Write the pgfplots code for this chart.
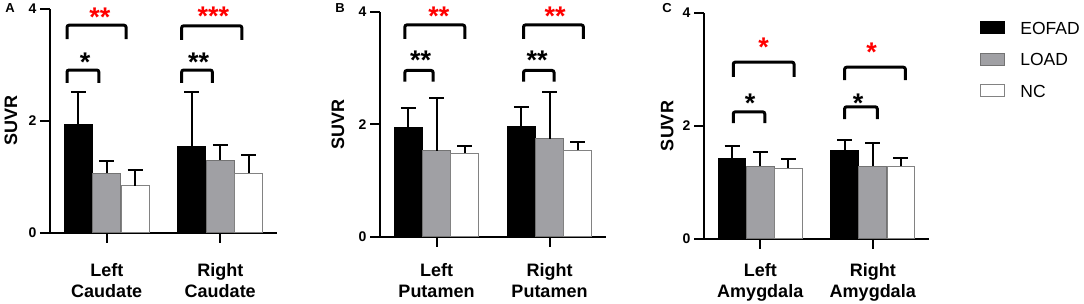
\documentclass[border=0pt]{standalone}
\usepackage{fontspec}
\setmainfont{Liberation Sans}
\usepackage{pgfplots}
\usepackage{pgfplotstable}
\pgfplotsset{compat=1.18}
\definecolor{loadgray}{RGB}{160,160,164}
\definecolor{edgegray}{RGB}{115,115,115}
\definecolor{ncedge}{RGB}{130,130,130}

\pgfplotstableread{
x e ee l le n ne
0 1.93 0.59 1.07 0.21 0.84 0.29
1 1.55 0.97 1.30 0.27 1.07 0.32
}\dataA
\pgfplotstableread{
x e ee l le n ne
0 1.94 0.35 1.53 0.94 1.49 0.13
1 1.96 0.35 1.75 0.82 1.54 0.14
}\dataB
\pgfplotstableread{
x e ee l le n ne
0 1.42 0.23 1.29 0.25 1.25 0.16
1 1.56 0.19 1.29 0.41 1.29 0.14
}\dataC

\pgfplotsset{
 panel/.style={
  scale only axis, xmin=-0.5, xmax=1.5, ymin=0, ymax=4,
  axis x line*=bottom, axis y line*=left,
  axis line style={-, line width=2.3pt, black},
  xtick={0,1}, ytick={0,2,4}, yticklabels={0,2,4},
  minor tick num=0,
  tick align=outside, major tick length=10pt,
  tick style={black, line width=2pt},
  ybar, bar width=0.245,
  clip=false,
  yticklabel style={font=\fontsize{14}{14}\selectfont\bfseries},
  xticklabel style={font=\fontsize{18}{20.5}\selectfont\bfseries, align=center},
  ylabel={SUVR},
  ylabel style={font=\fontsize{18}{18}\selectfont\bfseries, anchor=center},
 },
 errs/.style={error bars/y dir=plus, error bars/y explicit,
   error bars/error bar style={line width=2pt, black},
   error bars/error mark options={rotate=90, line width=2pt, black, mark size=7.5pt}},
 limg/.style={legend image code/.code={\draw[##1, line width=1pt] (0pt,-6pt) rectangle (24pt,6pt);}},
 eo/.style={fill=black, draw=black, line width=1pt, bar shift=-0.25, errs, limg},
 lo/.style={fill=loadgray, draw=edgegray, line width=1pt, bar shift=0, errs, limg},
 nc/.style={fill=white, draw=ncedge, line width=1pt, bar shift=0.25, errs, limg},
}
\newcommand{\brk}[4]{\draw[line width=3pt, rounded corners=2pt, black] (axis cs:#1,#4) -- (axis cs:#1,#3) -- (axis cs:#2,#3) -- (axis cs:#2,#4);}
\newcommand{\stars}[4]{\node[anchor=base, text=#4, font=\fontsize{27}{27}\selectfont\bfseries, inner sep=0pt, yshift=-15pt] at (axis cs:#1,#2) {#3};}

\begin{document}
\begin{tikzpicture}
\useasboundingbox (0pt,0pt) rectangle (1084pt,304pt);
% Panel A
\begin{axis}[panel, at={(50pt,71pt)}, anchor=south west, width=227pt, height=224pt,
  xticklabels={{Left\\Caudate},{Right\\Caudate}},
  xticklabel style={yshift=-17pt},
  ylabel style={at={(axis description cs:-0.172,0.5)}}]
\addplot[eo] table[x=x, y=e, y error=ee] {\dataA};
\addplot[lo] table[x=x, y=l, y error=le] {\dataA};
\addplot[nc] table[x=x, y=n, y error=ne] {\dataA};
\brk{-0.35}{0.17}{3.71}{3.46}
\brk{-0.35}{-0.07}{2.91}{2.68}
\brk{0.66}{1.19}{3.70}{3.45}
\brk{0.66}{0.93}{2.91}{2.68}
\stars{-0.06}{3.96}{**}{red}
\stars{-0.19}{3.15}{*}{black}
\stars{0.94}{3.97}{***}{red}
\stars{0.81}{3.16}{**}{black}
\end{axis}
% Panel B
\begin{axis}[panel, at={(380pt,67pt)}, anchor=south west, width=226pt, height=225pt,
  xticklabels={{Left\\Putamen},{Right\\Putamen}},
  xticklabel style={yshift=-13pt},
  ylabel style={at={(axis description cs:-0.186,0.5)}}]
\addplot[eo] table[x=x, y=e, y error=ee] {\dataB};
\addplot[lo] table[x=x, y=l, y error=le] {\dataB};
\addplot[nc] table[x=x, y=n, y error=ne] {\dataB};
\brk{-0.28}{0.25}{3.77}{3.52}
\brk{-0.28}{-0.03}{2.96}{2.76}
\brk{0.77}{1.30}{3.77}{3.52}
\brk{0.77}{1.04}{2.96}{2.76}
\stars{0.02}{4.02}{**}{red}
\stars{-0.14}{3.24}{**}{black}
\stars{1.05}{4.02}{**}{red}
\stars{0.89}{3.24}{**}{black}
\end{axis}
% Panel C
\begin{axis}[panel, at={(704pt,65pt)}, anchor=south west, width=225pt, height=226pt,
  xticklabels={{Left\\Amygdala},{Right\\Amygdala}},
  xticklabel style={yshift=-11pt},
  ylabel style={at={(axis description cs:-0.164,0.5)}},
  legend style={at={(1.2284,0.963)}, anchor=north west, draw=none, fill=none,
    inner sep=0pt, outer sep=0pt, font=\fontsize{17.5}{17.5}\selectfont,
    nodes={inner sep=0pt, text height=12.5pt, text depth=0pt},
    /tikz/row sep=18.5pt, /tikz/column sep=15pt},
  legend cell align=left]
\addplot[eo] table[x=x, y=e, y error=ee] {\dataC};
\addplot[lo] table[x=x, y=l, y error=le] {\dataC};
\addplot[nc] table[x=x, y=n, y error=ne] {\dataC};
\legend{EOFAD,LOAD,NC}
\brk{-0.24}{0.30}{3.13}{2.87}
\brk{-0.24}{0.04}{2.25}{2.05}
\brk{0.75}{1.29}{3.04}{2.81}
\brk{0.75}{1.04}{2.34}{2.12}
\stars{0.03}{3.49}{*}{red}
\stars{-0.09}{2.51}{*}{black}
\stars{0.99}{3.40}{*}{red}
\stars{0.87}{2.51}{*}{black}
\end{axis}
\node[font=\fontsize{13}{13}\selectfont\bfseries, inner sep=0pt] at (10pt,295.5pt) {A};
\node[font=\fontsize{13}{13}\selectfont\bfseries, inner sep=0pt] at (340pt,296pt) {B};
\node[font=\fontsize{13}{13}\selectfont\bfseries, inner sep=0pt] at (667pt,296pt) {C};
\end{tikzpicture}
\end{document}
